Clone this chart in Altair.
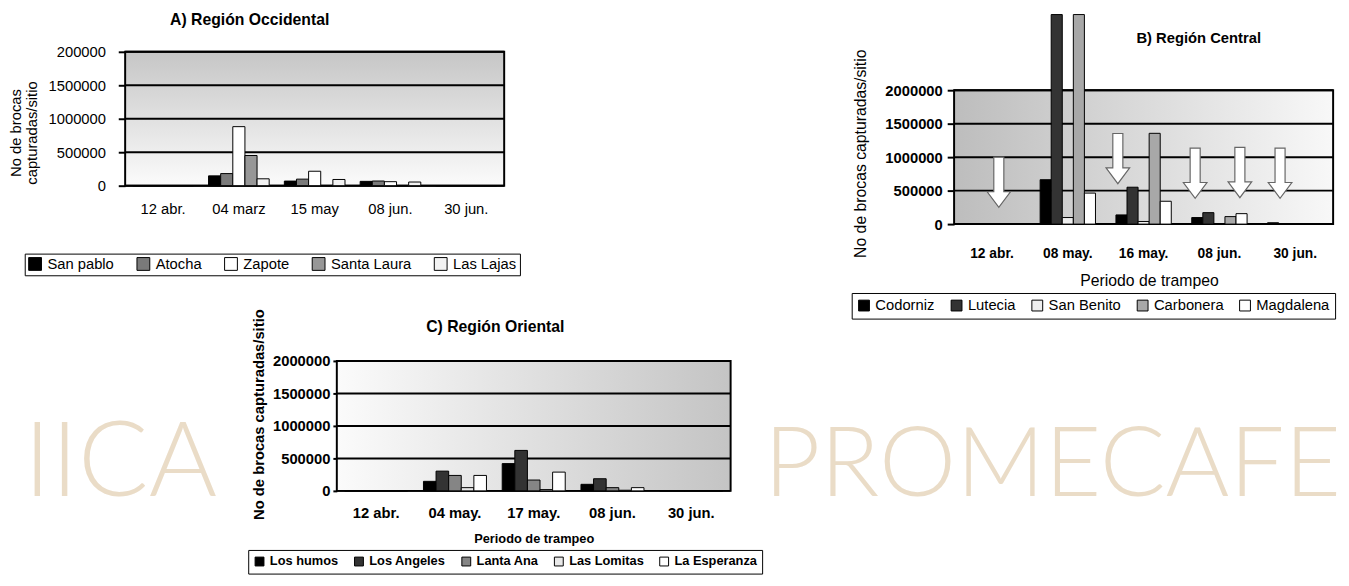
import altair as alt
import pandas as pd

FONT = "Liberation Sans"

# ---------------- data ----------------
A_dates = ["12 abr.", "04 marz", "15 may", "08 jun.", "30 jun."]
A_sites = ["San pablo", "Atocha", "Zapote", "Santa Laura", "Las Lajas"]
A_san_pablo = [0, 147000, 69000, 65000, 0]
A_atocha = [0, 181000, 98000, 70000, 0]
A_zapote = [0, 882000, 216000, 60000, 0]
A_santa_laura = [0, 451000, 0, 0, 0]
A_las_lajas = [0, 103000, 93000, 55000, 0]
A_colors = ["#000000", "#7a7a7a", "#ffffff", "#979797", "#f2f2f2"]
A_ticklabels = ["0", "500000", "1000000", "1500000", "200000"]

B_dates = ["12 abr.", "08 may.", "16 may.", "08 jun.", "30 jun."]
B_sites = ["Codorniz", "Lutecia", "San Benito", "Carbonera", "Magdalena"]
B_codorniz = [0, 663000, 137000, 98000, 20000]
B_lutecia = [0, 3130000, 551000, 171000, 0]
B_san_benito = [0, 98000, 39000, 0, 0]
B_carbonera = [0, 3130000, 1356000, 112000, 0]
B_magdalena = [0, 463000, 341000, 156000, 0]
B_colors = ["#000000", "#333333", "#eeeeee", "#a8a8a8", "#ffffff"]
B_ticklabels = ["0", "500000", "1000000", "1500000", "2000000"]
# white arrows (position in date slots, top and tip values)
B_arrow_pos = [0.59, 2.16, 3.18, 3.77, 4.30]
B_arrow_top = [990000, 1357000, 1140000, 1160000, 1140000]
B_arrow_tip = [260000, 600000, 380000, 380000, 380000]

C_dates = ["12 abr.", "04 may.", "17 may.", "08 jun.", "30 jun."]
C_sites = ["Los humos", "Los Angeles", "Lanta Ana", "Las Lomitas", "La Esperanza"]
C_humos = [0, 147000, 420000, 101000, 0]
C_angeles = [0, 304000, 623000, 187000, 0]
C_lanta_ana = [0, 238000, 167000, 50000, 0]
C_lomitas = [0, 50000, 20000, 10000, 0]
C_esperanza = [0, 238000, 289000, 50000, 0]
C_colors = ["#000000", "#333333", "#858585", "#e8e8e8", "#ffffff"]
C_ticklabels = ["0", "500000", "1000000", "1500000", "2000000"]

TICKS = [0, 500000, 1000000, 1500000, 2000000]
WATERMARKS = ["IICA", "PROMECAFE"]


def long_df(dates, sites, series):
    rows = []
    for s, vals in zip(sites, series):
        for d, v in zip(dates, vals):
            rows.append({"fecha": d, "sitio": s, "valor": v})
    return pd.DataFrame(rows)


def label_expr(labels):
    arr_v = "[" + ",".join(str(v) for v in TICKS) + "]"
    arr_l = "[" + ",".join("'" + l + "'" for l in labels) + "]"
    return f"{arr_l}[indexof({arr_v}, datum.value)]"


def grad(c0, c1, horizontal):
    return {"gradient": "linear",
            "stops": [{"offset": 0, "color": c0}, {"offset": 1, "color": c1}],
            "x1": 0, "y1": 0, "x2": 1 if horizontal else 0, "y2": 0 if horizontal else 1}


def panel(df, dates, sites, colors, ticklabels, W, H, top, fill, title, yaxis_kw,
          xaxis_kw, legend_kw, pad_inner, extra=None):
    yscale = alt.Scale(domain=[0, 2000000], range=[H, top], nice=False, zero=True)
    yaxis = alt.Axis(values=TICKS, labelExpr=label_expr(ticklabels), grid=False,
                     domain=False, ticks=True, tickColor="black", tickWidth=2,
                     labelColor="black", labelFont=FONT, titleFont=FONT,
                     titleColor="black", **yaxis_kw)
    xaxis = alt.Axis(labelAngle=0, ticks=False, domain=False, labelColor="black",
                     labelFont=FONT, titleFont=FONT, titleColor="black", **xaxis_kw)
    bg = alt.Chart(alt.Data(values=[{"k": 0}])).mark_rect(
        fill=fill, stroke="black", strokeWidth=2
    ).encode(x=alt.value(0), x2=alt.value(W), y=alt.value(top), y2=alt.value(H))
    grid = alt.Chart(pd.DataFrame({"t": TICKS})).mark_rule(
        color="black", strokeWidth=2
    ).encode(y=alt.Y("t:Q", scale=yscale, axis=yaxis))
    bars = alt.Chart(df).mark_bar(stroke="black", strokeWidth=1, opacity=1).encode(
        x=alt.X("fecha:N", sort=dates,
                scale=alt.Scale(paddingInner=pad_inner, paddingOuter=pad_inner / 2),
                axis=xaxis),
        xOffset=alt.XOffset("sitio:N", sort=sites, scale=alt.Scale(paddingInner=0)),
        y=alt.Y("valor:Q", scale=yscale, axis=yaxis),
        color=alt.Color("sitio:N", sort=sites,
                        scale=alt.Scale(domain=sites, range=colors),
                        legend=alt.Legend(orient="none", direction="horizontal",
                                          columns=5, title=None, strokeColor="black",
                                          symbolType="square", symbolStrokeColor="black",
                                          symbolStrokeWidth=1, symbolOpacity=1,
                                          labelFont=FONT, labelColor="black",
                                          **legend_kw)),
    )
    layers = [bg, grid, bars]
    if extra is not None:
        layers.append(extra(yscale, yaxis))
    ch = alt.layer(*layers).properties(width=W, height=H, title=title)
    if extra is not None:
        ch = ch.resolve_scale(x="independent")
    return ch


# ---------------- panel A ----------------
dfA = long_df(A_dates, A_sites, [A_san_pablo, A_atocha, A_zapote, A_santa_laura, A_las_lajas])
chartA = panel(
    dfA, A_dates, A_sites, A_colors, A_ticklabels, 385, 136, 0,
    grad("#c6c6c6", "#fbfbfb", False),
    alt.TitleParams("A)  Región Occidental", font=FONT, fontSize=16, fontWeight="bold",
                    color="black", anchor="middle", frame="group", dx=-66, offset=17),
    dict(labelFontSize=15, tickSize=7, labelPadding=13,
         title=["No de brocas", "capturadas/sitio"], titleFontSize=15,
         titleFontWeight="normal", titleLineHeight=16, titlePadding=9, titleY=82),
    dict(labelFontSize=15, labelPadding=16, title=None),
    dict(legendX=-102, legendY=205, labelFontSize=15, symbolSize=169,
         columnPadding=21, padding=3, labelOffset=5),
    0.2,
)

# ---------------- panel B ----------------
dfB = long_df(B_dates, B_sites, [B_codorniz, B_lutecia, B_san_benito, B_carbonera, B_magdalena])
dfArrows = pd.DataFrame({"pos": B_arrow_pos, "top": B_arrow_top, "tip": B_arrow_tip})
ARROW = "M -0.2 -1 L 0.2 -1 L 0.2 0.37 L 0.47 0.37 L 0 1 L -0.47 0.37 L -0.2 0.37 Z"


def arrows_layer(yscale, yaxis):
    return alt.Chart(dfArrows).transform_calculate(
        mid="(datum.top + datum.tip) / 2"
    ).mark_point(shape=ARROW, size=2601, filled=True, fill="white",
                 stroke="#666666", strokeWidth=1.2, opacity=1).encode(
        x=alt.X("pos:Q", scale=alt.Scale(domain=[0, 5], nice=False, zero=True), axis=None),
        y=alt.Y("mid:Q", scale=yscale, axis=yaxis),
    )


chartB = panel(
    dfB, B_dates, B_sites, B_colors, B_ticklabels, 385, 175, 39,
    grad("#bdbdbd", "#f8f8f8", True),
    alt.TitleParams("B)  Región Central", font=FONT, fontSize=15, fontWeight="bold",
                    color="black", anchor="middle", frame="group", dx=56, offset=-32),
    dict(labelFontSize=15, labelFontWeight="bold", tickSize=7, labelPadding=5,
         title="No de brocas capturadas/sitio", titleFontSize=16,
         titleFontWeight="normal", titlePadding=17, titleY=103),
    dict(labelFontSize=14, labelFontWeight="bold", labelPadding=23,
         title="Periodo de trampeo", titleFontSize=16, titleFontWeight="normal",
         titlePadding=12, titleX=198),
    dict(legendX=-104, legendY=245, labelFontSize=15, symbolSize=121,
         columnPadding=14, padding=5, labelOffset=4),
    0.27,
    extra=arrows_layer,
)

# ---------------- panel C ----------------
dfC = long_df(C_dates, C_sites, [C_humos, C_angeles, C_lanta_ana, C_lomitas, C_esperanza])
chartC = panel(
    dfC, C_dates, C_sites, C_colors, C_ticklabels, 400, 132, 0,
    grad("#fbfbfb", "#c4c4c4", True),
    alt.TitleParams("C) Región Oriental", font=FONT, fontSize=16, fontWeight="bold",
                    color="black", anchor="middle", frame="group", dx=-39, offset=-27),
    dict(labelFontSize=15, labelFontWeight="bold", tickSize=4, labelPadding=3,
         title="No de brocas capturadas/sitio", titleFontSize=15,
         titleFontWeight="bold", titlePadding=6, titleY=54),
    dict(labelFontSize=15, labelFontWeight="bold", labelPadding=15,
         title="Periodo de trampeo", titleFontSize=13, titleFontWeight="bold",
         titlePadding=12),
    dict(legendX=-90, legendY=192, labelFontSize=13, labelFontWeight="bold",
         symbolSize=81, columnPadding=14, padding=5, labelOffset=4),
    0.2,
)


# ---------------- watermarks ----------------
def watermark(word, W, H, x, y, align, size):
    return alt.Chart(alt.Data(values=[{"w": word}])).mark_text(
        font="Lato", fontSize=size, fontWeight=300, color="#eadcc7",
        align=align, baseline="alphabetic"
    ).encode(text="w:N", x=alt.value(x), y=alt.value(y)).properties(width=W, height=H)


wmL = watermark(WATERMARKS[0], 124, 132, -103, 137, "left", 106)
wmR = watermark(WATERMARKS[1], 573, 132, 573, 137, "right", 99)


def indep(c):
    return c.resolve_scale(color="independent", xOffset="independent").resolve_legend(
        color="independent")


row1 = indep(alt.hconcat(chartA, chartB, spacing=335))
row2 = indep(alt.hconcat(wmL, chartC, wmR, spacing=0))
chart = indep(alt.vconcat(row1, row2, spacing=-12)).properties(
    padding=0).configure_view(stroke=None)

chart.save("out.html", embed_options={"renderer": "svg", "actions": False})
